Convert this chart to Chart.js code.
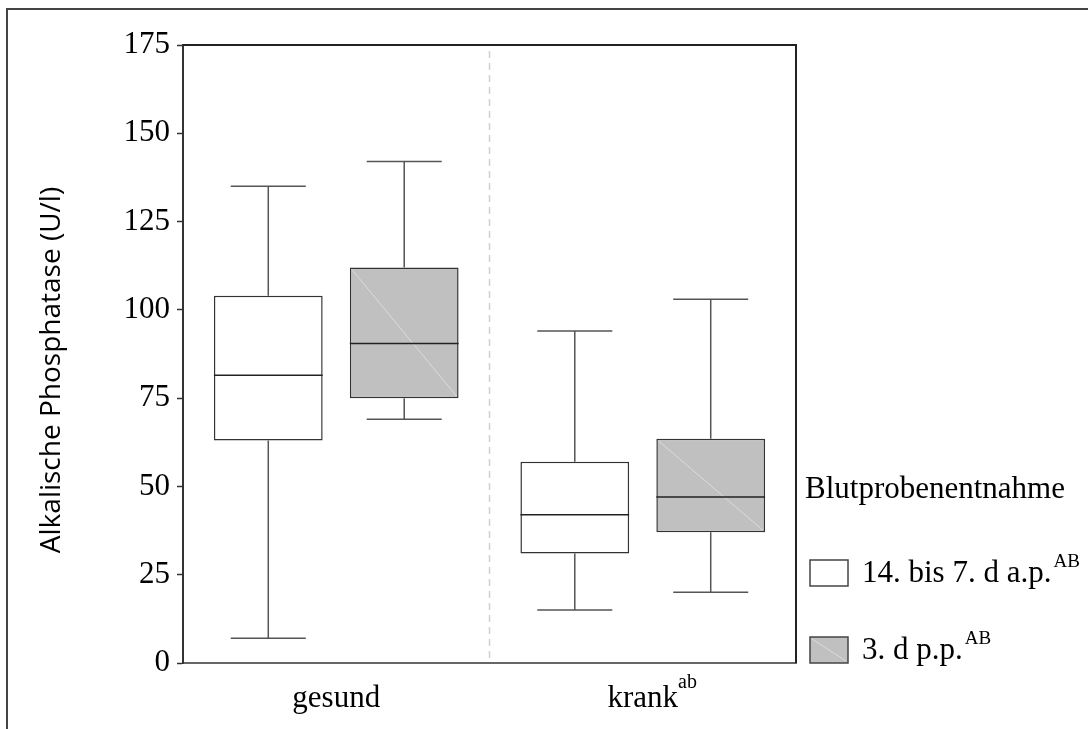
<!DOCTYPE html>
<html>
<head>
<meta charset="utf-8">
<title>Alkalische Phosphatase</title>
<script src="https://cdn.jsdelivr.net/npm/chart.js@4.4.0/dist/chart.umd.min.js"></script>
<style>
  html, body { margin: 0; padding: 0; background: #fff; }
  #wrap { position: relative; width: 1088px; height: 729px; overflow: hidden; }
  #frame { position: absolute; left: 6px; top: 8px; right: -10px; bottom: -10px;
           border-left: 2px solid #444; border-top: 2px solid #444; }
  #chart { position: absolute; left: 0; top: 0; }
</style>
</head>
<body>
<div id="wrap">
  <div id="frame"></div>
  <canvas id="chart" width="1088" height="729"></canvas>
</div>
<script>
// categories and superscripts
const categories = ['gesund', 'krank'];
const categorySup = ['', 'ab'];
const seriesNames = ['14. bis 7. d a.p.', '3. d p.p.'];
const seriesSup = ['AB', 'AB'];
const yTitle = 'Alkalische Phosphatase (U/l)';

// 14. bis 7. d a.p.
const anteMin = [7, 15];
const anteQ1 = [63, 31];
const anteMedian = [81.5, 42];
const anteQ3 = [104, 57];
const anteMax = [135, 94];

// 3. d p.p.
const postMin = [69, 20];
const postQ1 = [75, 37];
const postMedian = [90.5, 47];
const postQ3 = [112, 63.5];
const postMax = [142, 103];

const yTicks = [0, 25, 50, 75, 100, 125, 150, 175];

const serif = '"Liberation Serif", "Times New Roman", serif';
const fontSize = 31;

// whiskers, medians, separator line
const boxPlot = {
    id: 'boxPlot',
    afterDatasetsDraw(chart) {
        const ctx = chart.ctx;
        const x = chart.scales.x, y = chart.scales.y, area = chart.chartArea;
        ctx.save();

        const sepX = (x.getPixelForValue(0) + x.getPixelForValue(1)) / 2;
        ctx.strokeStyle = '#d0d0d0';
        ctx.lineWidth = 1.5;
        ctx.setLineDash([7, 5]);
        ctx.beginPath();
        ctx.moveTo(sepX, area.top + 6);
        ctx.lineTo(sepX, area.bottom);
        ctx.stroke();
        ctx.setLineDash([]);

        chart.data.datasets.forEach((ds, d) => {
            chart.getDatasetMeta(d).data.forEach((bar, i) => {
                const half = bar.width / 2;
                const cap = bar.width * 0.345;
                const top = y.getPixelForValue(ds.q3[i]);
                const bottom = y.getPixelForValue(ds.q1[i]);
                const yMax = y.getPixelForValue(ds.max[i]);
                const yMin = y.getPixelForValue(ds.min[i]);
                const yMed = y.getPixelForValue(ds.median[i]);

                if (ds.diagonal) {
                    ctx.strokeStyle = '#dcdcdc';
                    ctx.lineWidth = 1;
                    ctx.beginPath();
                    ctx.moveTo(bar.x - half + 2, top + 2);
                    ctx.lineTo(bar.x + half - 2, bottom - 2);
                    ctx.stroke();
                }

                ctx.strokeStyle = '#555';
                ctx.lineWidth = 1.5;
                ctx.beginPath();
                ctx.moveTo(bar.x, top);
                ctx.lineTo(bar.x, yMax);
                ctx.moveTo(bar.x - cap, yMax);
                ctx.lineTo(bar.x + cap, yMax);
                ctx.moveTo(bar.x, bottom);
                ctx.lineTo(bar.x, yMin);
                ctx.moveTo(bar.x - cap, yMin);
                ctx.lineTo(bar.x + cap, yMin);
                ctx.stroke();

                ctx.strokeStyle = '#222';
                ctx.beginPath();
                ctx.moveTo(bar.x - half, yMed);
                ctx.lineTo(bar.x + half, yMed);
                ctx.stroke();
            });
        });
        ctx.restore();
    },
    afterDraw(chart) {
        const ctx = chart.ctx;
        const x = chart.scales.x, area = chart.chartArea;
        ctx.save();

        // top and right side of the plot frame
        ctx.strokeStyle = '#222';
        ctx.lineWidth = 2;
        ctx.beginPath();
        ctx.moveTo(area.left, area.top);
        ctx.lineTo(area.right, area.top);
        ctx.lineTo(area.right, area.bottom);
        ctx.stroke();

        // y axis title (drawn here so it can sit a bit below the middle like the original)
        ctx.save();
        ctx.translate(52, 370);
        ctx.rotate(-Math.PI / 2);
        ctx.fillStyle = '#000';
        ctx.textAlign = 'center';
        ctx.textBaseline = 'middle';
        ctx.font = '28px "Open Sans", sans-serif';
        ctx.fillText(yTitle, 0, 0);
        ctx.restore();

        // superscripts on category labels
        ctx.fillStyle = '#000';
        ctx.textBaseline = 'middle';
        const labelMid = x.top + 9 + fontSize * 1.2 / 2;
        categories.forEach((c, i) => {
            if (!categorySup[i]) return;
            ctx.font = fontSize + 'px ' + serif;
            const w = ctx.measureText(c).width;
            ctx.font = '20px ' + serif;
            ctx.textAlign = 'left';
            ctx.fillText(categorySup[i], x.getPixelForValue(i) + w / 2, labelMid - 8);
        });

        // legend
        ctx.textBaseline = 'alphabetic';
        ctx.textAlign = 'left';
        ctx.font = fontSize + 'px ' + serif;
        ctx.fillText('Blutprobenentnahme', area.right + 9, 498);

        const boxTops = [560, 637];
        chart.data.datasets.forEach((ds, d) => {
            const bx = area.right + 14, by = boxTops[d];
            ctx.fillStyle = ds.backgroundColor;
            ctx.fillRect(bx, by, 38, 26);
            if (ds.diagonal) {
                ctx.strokeStyle = '#dcdcdc';
                ctx.lineWidth = 1;
                ctx.beginPath();
                ctx.moveTo(bx + 2, by + 2);
                ctx.lineTo(bx + 36, by + 24);
                ctx.stroke();
            }
            ctx.strokeStyle = '#444';
            ctx.lineWidth = 1.5;
            ctx.strokeRect(bx, by, 38, 26);

            ctx.fillStyle = '#000';
            ctx.font = fontSize + 'px ' + serif;
            const tx = area.right + 66, ty = by + 22;
            ctx.fillText(seriesNames[d], tx, ty);
            const w = ctx.measureText(seriesNames[d]).width;
            ctx.font = '19px ' + serif;
            ctx.fillText(seriesSup[d], tx + w + 2, ty - 15);
        });
        ctx.restore();
    }
};

new Chart(document.getElementById('chart'), {
    type: 'bar',
    data: {
        labels: categories,
        datasets: [
            {
                label: seriesNames[0],
                data: categories.map((c, i) => [anteQ1[i], anteQ3[i]]),
                min: anteMin, q1: anteQ1, median: anteMedian, q3: anteQ3, max: anteMax,
                backgroundColor: '#ffffff',
                borderColor: '#333',
                borderWidth: 1.5,
                borderSkipped: false,
                diagonal: false
            },
            {
                label: seriesNames[1],
                data: categories.map((c, i) => [postQ1[i], postQ3[i]]),
                min: postMin, q1: postQ1, median: postMedian, q3: postQ3, max: postMax,
                backgroundColor: '#c0c0c0',
                borderColor: '#333',
                borderWidth: 1.5,
                borderSkipped: false,
                diagonal: true
            }
        ]
    },
    options: {
        responsive: false,
        animation: false,
        categoryPercentage: 0.887,
        barPercentage: 0.8,
        layout: { padding: { left: 0, top: 45, right: 292, bottom: 0 } },
        plugins: {
            legend: { display: false },
            tooltip: { enabled: false }
        },
        scales: {
            x: {
                grid: { display: false },
                border: { display: true, color: '#666', width: 2 },
                ticks: { color: '#000', font: { family: serif, size: fontSize }, padding: 9 },
                afterFit: (s) => { s.height = 66; }
            },
            y: {
                min: 0,
                max: 175,
                afterBuildTicks: (s) => { s.ticks = yTicks.map(v => ({ value: v })); },
                grid: { display: true, drawOnChartArea: false, drawTicks: true, tickLength: 6, tickColor: '#333', tickWidth: 1.5 },
                border: { display: true, color: '#333', width: 2 },
                ticks: { color: '#000', font: { family: serif, size: fontSize }, padding: 7 },
                afterFit: (s) => { s.width = 183; }
            }
        }
    },
    plugins: [boxPlot]
});
</script>
</body>
</html>
